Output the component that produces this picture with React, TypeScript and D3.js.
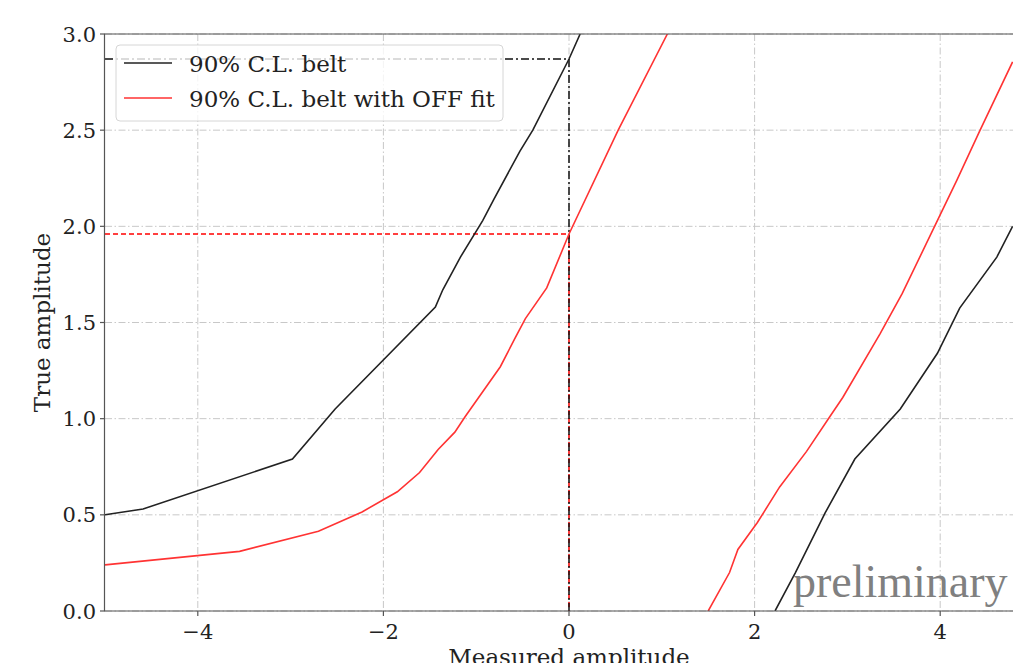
import React from 'react';
import * as d3 from 'd3';

// belt edges (measured, true)
const blackLeft: [number, number][] = [
  [-5, 0.5], [-4.59, 0.53], [-2.98, 0.79], [-2.52, 1.05], [-1.44, 1.58], [-1.36, 1.67],
  [-1.17, 1.84], [-0.93, 2.03], [-0.81, 2.14], [-0.53, 2.39], [-0.39, 2.5], [0, 2.87], [0.12, 3.0],
];
const blackRight: [number, number][] = [
  [2.22, 0], [2.44, 0.2], [2.76, 0.51], [3.08, 0.79], [3.57, 1.05], [3.97, 1.34],
  [4.21, 1.575], [4.61, 1.84], [4.78, 2.0],
];
const redLeft: [number, number][] = [
  [-5, 0.24], [-3.55, 0.31], [-2.7, 0.415], [-2.23, 0.515], [-1.85, 0.62], [-1.61, 0.72],
  [-1.41, 0.84], [-1.23, 0.93], [-1.12, 1.01], [-0.74, 1.27], [-0.58, 1.42], [-0.47, 1.52],
  [-0.24, 1.68], [0, 1.96], [0.53, 2.5], [1.06, 3.0],
];
const redRight: [number, number][] = [
  [1.5, 0], [1.73, 0.2], [1.82, 0.32], [2.03, 0.46], [2.27, 0.645], [2.56, 0.83],
  [2.81, 1.01], [2.95, 1.11], [3.35, 1.44], [3.43, 1.51], [3.59, 1.65], [3.92, 1.98],
  [4.18, 2.24], [4.43, 2.5], [4.78, 2.855],
];

const xTicks = [-4, -2, 0, 2, 4];
const yTicks = [0, 0.5, 1, 1.5, 2, 2.5, 3];
const measured = 0;
const upperLimit = 2.87;
const upperLimitOff = 1.96;

const legendItems = [
  { label: '90% C.L. belt', color: '#222' },
  { label: '90% C.L. belt with OFF fit', color: '#ff3333' },
];

const W = 1013;
const H = 663;
const left = 105;
const top = 34;
const bottom = 611;

export default function App() {
  const x = d3.scaleLinear().domain([-5, 5]).range([left, 1033]);
  const y = d3.scaleLinear().domain([0, 3]).range([bottom, top]);
  const line = d3.line<[number, number]>().x(d => x(d[0])).y(d => y(d[1]));
  const font = '"DejaVu Serif", serif';
  const grid = '7,2.5,1.5,2.5';

  return (
    <svg width={W} height={H} style={{ position: 'absolute', left: 0, top: 0, background: '#fff' }}>
      <defs>
        <clipPath id="plot">
          <rect x={left} y={top} width={W - left} height={bottom - top} />
        </clipPath>
      </defs>

      {/* grid */}
      <g stroke="#c8c8c8" strokeWidth={1} strokeDasharray={grid} fill="none">
        {xTicks.map(t => <line key={'gx' + t} x1={x(t)} x2={x(t)} y1={top} y2={bottom} />)}
        {yTicks.map(t => <line key={'gy' + t} x1={left} x2={W} y1={y(t)} y2={y(t)} />)}
      </g>

      {/* upper limit guides */}
      <g fill="none" strokeWidth={1.5}>
        <line x1={left} x2={x(measured)} y1={y(upperLimitOff)} y2={y(upperLimitOff)} stroke="red" strokeDasharray="5,3" />
        <line x1={x(measured)} x2={x(measured)} y1={y(upperLimitOff)} y2={bottom} stroke="red" strokeDasharray="5,3" />
        <line x1={left} x2={x(measured)} y1={y(upperLimit)} y2={y(upperLimit)} stroke="#111" strokeDasharray="8,3,2,3" />
        <line x1={x(measured)} x2={x(measured)} y1={y(upperLimit)} y2={bottom} stroke="#111" strokeDasharray="8,3,2,3" />
      </g>

      {/* belts */}
      <g clipPath="url(#plot)" fill="none" strokeWidth={1.6}>
        <path d={line(blackLeft) || ''} stroke="#222" />
        <path d={line(blackRight) || ''} stroke="#222" />
        <path d={line(redLeft) || ''} stroke="#ff3333" />
        <path d={line(redRight) || ''} stroke="#ff3333" />
      </g>

      <text x={793} y={597} fontFamily='"Liberation Serif", serif' fontSize={46} fill="#808080">preliminary</text>

      {/* spines */}
      <g stroke="#555" strokeWidth={1.2} fill="none">
        <line x1={left - 0.5} x2={left - 0.5} y1={top} y2={bottom} />
        <line x1={left - 0.5} x2={W} y1={bottom} y2={bottom} />
        <line x1={left - 0.5} x2={W} y1={top} y2={top} />
        {xTicks.map(t => <line key={'tx' + t} x1={x(t)} x2={x(t)} y1={bottom} y2={bottom + 5} />)}
        {yTicks.map(t => <line key={'ty' + t} x1={left - 5} x2={left} y1={y(t)} y2={y(t)} />)}
      </g>

      <g fontFamily={font} fontSize={21} fill="#222">
        {xTicks.map(t => (
          <text key={'lx' + t} x={x(t)} y={639} textAnchor="middle">{t < 0 ? '\u2212' + Math.abs(t) : String(t)}</text>
        ))}
        {yTicks.map(t => (
          <text key={'ly' + t} x={96} y={y(t) + 7.5} textAnchor="end">{t.toFixed(1)}</text>
        ))}
      </g>
      <g fontFamily={font} fontSize={23} fill="#222">
        <text x={x(0)} y={665} textAnchor="middle">Measured amplitude</text>
        <text transform={`translate(50,${(top + bottom) / 2}) rotate(-90)`} textAnchor="middle">True amplitude</text>
      </g>

      {/* legend */}
      <rect x={116} y={45} width={387} height={76} rx={4} fill="#fff" fillOpacity={0.8} stroke="#d6d6d6" />
      {legendItems.map((d, i) => (
        <g key={d.label} transform={`translate(0,${63 + i * 35})`}>
          <line x1={124} x2={172} y1={0} y2={0} stroke={d.color} strokeWidth={1.6} />
          <text x={189} y={8.5} fontFamily={font} fontSize={23} fill="#222">{d.label}</text>
        </g>
      ))}
    </svg>
  );
}
